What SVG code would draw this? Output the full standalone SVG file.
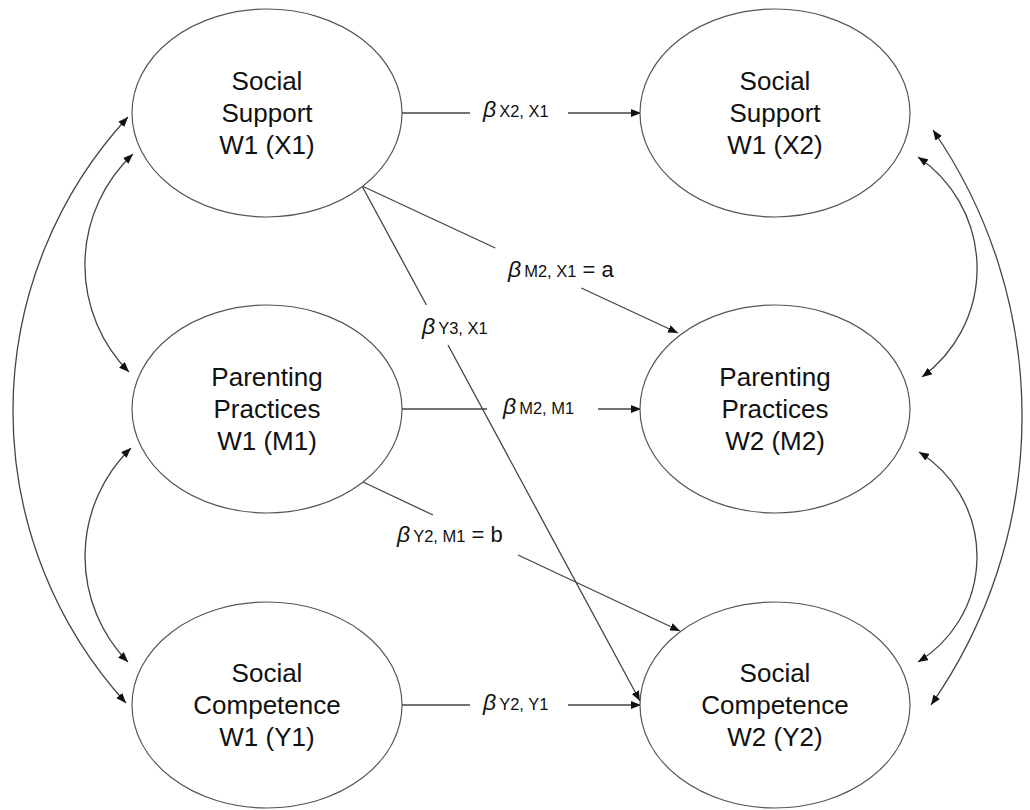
<svg xmlns="http://www.w3.org/2000/svg" width="1030" height="810" viewBox="0 0 1030 810">
<style>
.node ellipse{fill:#fff;stroke:#555;stroke-width:1.2}
.node text{font-family:"Liberation Sans",Arial,sans-serif;font-size:26px;fill:#111;text-anchor:middle}
.conn path{fill:none;stroke:#444;stroke-width:1.3}
.lab rect{fill:#fff;stroke:#f0f0f0;stroke-width:1}
.lab text{font-family:"Liberation Sans",Arial,sans-serif;fill:#111}
.b{font-size:23px;font-style:italic}
.s{font-size:16.5px}
.m{font-size:22px}
</style>
<defs>
<marker id="ah" viewBox="0 0 10 8" refX="10" refY="4" markerWidth="10" markerHeight="8" orient="auto-start-reverse" markerUnits="userSpaceOnUse">
<path d="M0,0 L10,4 L0,8 z" fill="#111"/>
</marker>
</defs>
<rect width="1030" height="810" fill="#fff"/>

<g class="conn">
<path d="M402,113 L470,113 M568,113 L641,113" marker-end="url(#ah)"/>
<path d="M402,409 L487,409 M598,409 L641,409" marker-end="url(#ah)"/>
<path d="M402,705 L470,705 M568,705 L641,705" marker-end="url(#ah)"/>
<path d="M362,186 L495.3,248 M581.3,288 L678,333" marker-end="url(#ah)"/>
<path d="M362,186 L426.4,305 M448,345 L640,701" marker-end="url(#ah)"/>
<path d="M363,482 L433,515 M518,555 L680,631" marker-end="url(#ah)"/>
<path d="M128,117 A433.5 433.5 0 0 0 126,703" marker-start="url(#ah)" marker-end="url(#ah)"/>
<path d="M133,154 A152 152 0 0 0 129,372" marker-start="url(#ah)" marker-end="url(#ah)"/>
<path d="M131,448 A151 151 0 0 0 128,662" marker-start="url(#ah)" marker-end="url(#ah)"/>
<path d="M933,130 A504 504 0 0 1 931,705" marker-start="url(#ah)" marker-end="url(#ah)"/>
<path d="M918,157 A134.6 134.6 0 0 1 922,377" marker-start="url(#ah)" marker-end="url(#ah)"/>
<path d="M919,452 A123.5 123.5 0 0 1 918,662" marker-start="url(#ah)" marker-end="url(#ah)"/>
</g>

<g class="lab" id="lab-x2x1"><text x="483" y="117"><tspan class="b">β</tspan><tspan class="s" dx="3">X2, X1</tspan></text></g>
<g class="lab" id="lab-m2x1"><text x="508" y="277"><tspan class="b">β</tspan><tspan class="s" dx="3">M2, X1</tspan><tspan class="m"> = a</tspan></text></g>
<g class="lab" id="lab-y3x1"><text x="422" y="334"><tspan class="b">β</tspan><tspan class="s" dx="3">Y3, X1</tspan></text></g>
<g class="lab" id="lab-m2m1"><text x="503" y="414"><tspan class="b">β</tspan><tspan class="s" dx="3">M2, M1</tspan></text></g>
<g class="lab" id="lab-y2m1"><text x="397" y="542"><tspan class="b">β</tspan><tspan class="s" dx="3">Y2, M1</tspan><tspan class="m"> = b</tspan></text></g>
<g class="lab" id="lab-y2y1"><text x="483" y="710"><tspan class="b">β</tspan><tspan class="s" dx="3">Y2, Y1</tspan></text></g>

<g class="node" id="x1"><ellipse cx="267" cy="113" rx="135" ry="104"/><text x="267" y="90">Social</text><text x="267" y="122">Support</text><text x="267" y="154">W1 (X1)</text></g>
<g class="node" id="x2"><ellipse cx="775" cy="113" rx="135" ry="104"/><text x="775" y="90">Social</text><text x="775" y="122">Support</text><text x="775" y="154">W1 (X2)</text></g>
<g class="node" id="m1"><ellipse cx="267" cy="409" rx="135" ry="104"/><text x="267" y="386">Parenting</text><text x="267" y="418">Practices</text><text x="267" y="450">W1 (M1)</text></g>
<g class="node" id="m2"><ellipse cx="775" cy="409" rx="135" ry="104"/><text x="775" y="386">Parenting</text><text x="775" y="418">Practices</text><text x="775" y="450">W2 (M2)</text></g>
<g class="node" id="y1"><ellipse cx="267" cy="705" rx="135" ry="103"/><text x="267" y="682">Social</text><text x="267" y="714">Competence</text><text x="267" y="746">W1 (Y1)</text></g>
<g class="node" id="y2"><ellipse cx="775" cy="705" rx="135" ry="103"/><text x="775" y="682">Social</text><text x="775" y="714">Competence</text><text x="775" y="746">W2 (Y2)</text></g>
</svg>
